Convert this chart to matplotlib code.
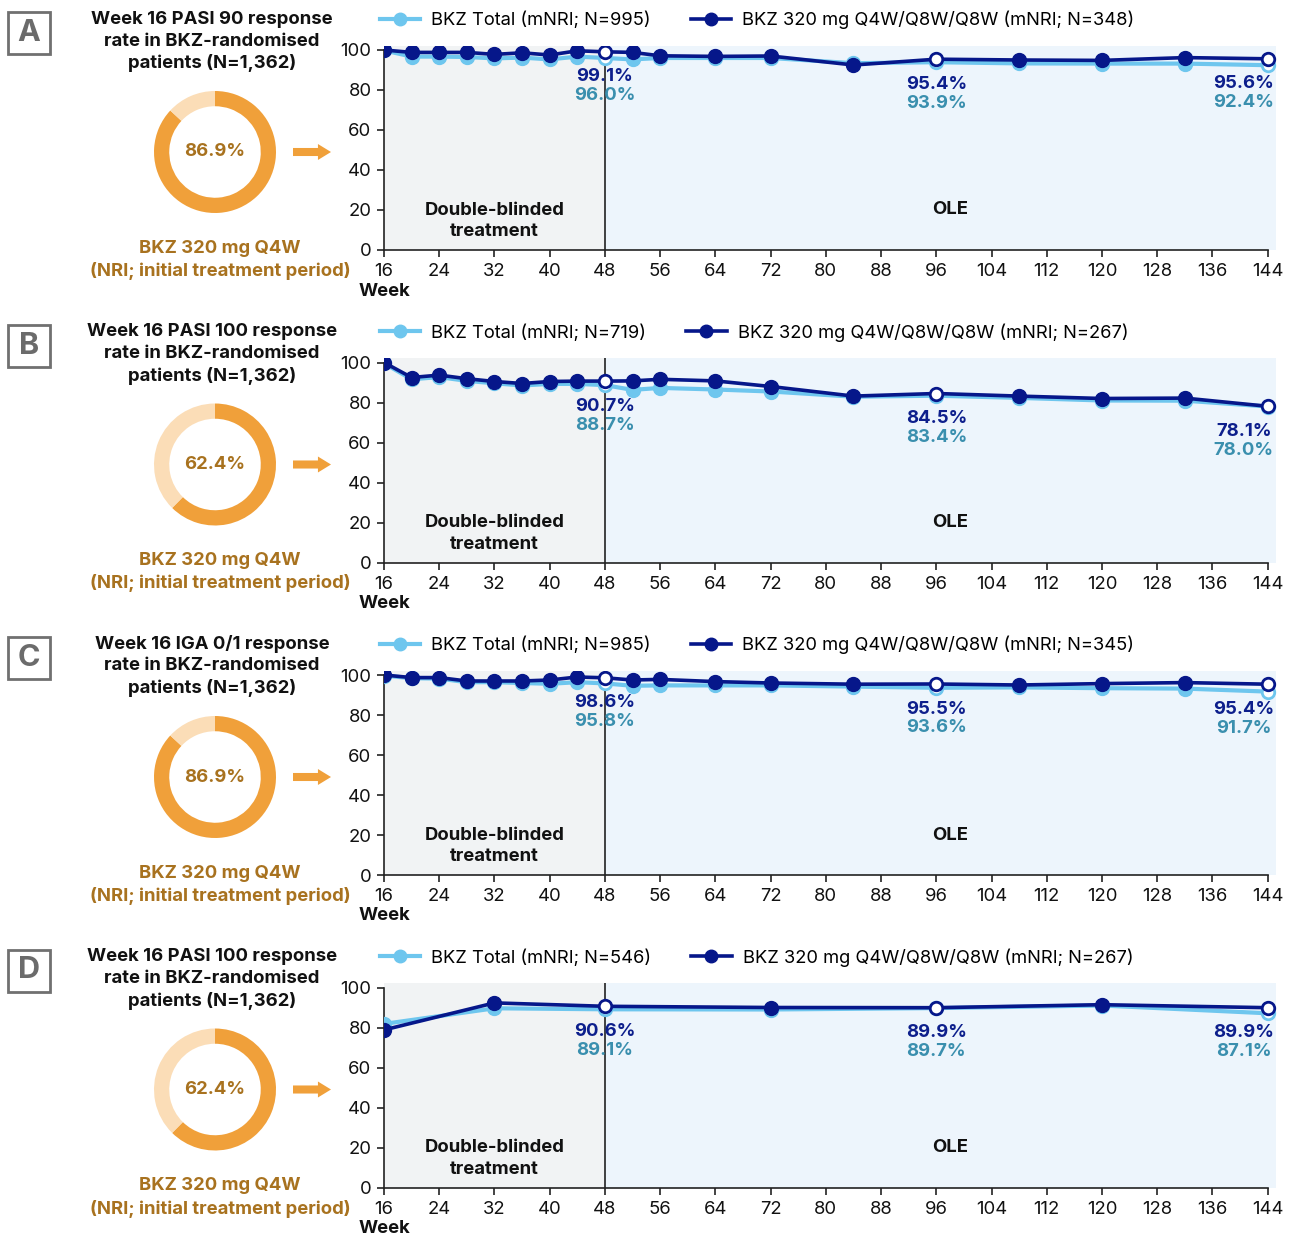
import numpy as np
import matplotlib
matplotlib.use("Agg")
from matplotlib import pyplot as plt
from matplotlib.lines import Line2D
from matplotlib.patches import Rectangle, FancyArrowPatch

plt.rcParams['font.family'] = ['Inter', 'DejaVu Sans']

# ---- data ----
weeks = [16, 20, 24, 28, 32, 36, 40, 44, 48, 52, 56, 64, 72, 84, 96, 108, 120, 132, 144]
weeks_d = [16, 32, 48, 72, 96, 120, 144]
open_weeks = [48, 96, 144]

a_dark = [100, 98.8, 98.8, 98.8, 97.8, 98.6, 97.5, 99.6, 99.1, 98.8, 97.1, 96.8, 97.0, 92.5, 95.4, 95.0, 94.8, 96.2, 95.6]
a_light = [99.8, 96.7, 96.7, 96.5, 95.8, 96.2, 95.3, 96.7, 96.0, 95.3, 96.0, 96.0, 96.0, 93.4, 93.9, 93.3, 93.2, 93.2, 92.4]
b_dark = [100, 92.5, 93.7, 91.9, 90.5, 89.5, 90.5, 90.7, 90.7, 90.8, 91.6, 90.8, 88.0, 83.2, 84.5, 83.2, 82.0, 82.2, 78.1]
b_light = [99.6, 91.6, 92.7, 90.8, 89.6, 88.5, 89.3, 89.3, 88.7, 86.3, 87.3, 86.5, 85.5, 82.9, 83.4, 82.3, 81.0, 80.9, 78.0]
c_dark = [100, 98.7, 98.7, 97.0, 97.0, 97.0, 97.5, 99.0, 98.6, 97.5, 97.8, 96.7, 96.0, 95.4, 95.5, 95.0, 95.7, 96.2, 95.4]
c_light = [99.7, 98.4, 98.2, 96.4, 96.4, 96.0, 95.6, 96.4, 95.8, 94.6, 94.8, 94.8, 94.8, 94.2, 93.6, 93.8, 93.4, 93.2, 91.7]
d_dark = [78.8, 92.3, 90.6, 90.0, 89.9, 91.4, 89.9]
d_light = [81.8, 89.6, 89.1, 89.0, 89.7, 91.0, 87.1]

letters = ['A', 'B', 'C', 'D']
titles = [
    ['Week 16 PASI 90 response', 'rate in BKZ-randomised', 'patients (N=1,362)'],
    ['Week 16 PASI 100 response', 'rate in BKZ-randomised', 'patients (N=1,362)'],
    ['Week 16 IGA 0/1 response', 'rate in BKZ-randomised', 'patients (N=1,362)'],
    ['Week 16 PASI 100 response', 'rate in BKZ-randomised', 'patients (N=1,362)'],
]
donut_vals = [86.9, 62.4, 86.9, 62.4]
n_total = [995, 719, 985, 546]
n_dose = [348, 267, 345, 267]
panel_x = [weeks, weeks, weeks, weeks_d]
panel_dark = [a_dark, b_dark, c_dark, d_dark]
panel_light = [a_light, b_light, c_light, d_light]

# ---- styles ----
W, H = 1297, 1237
DARK = '#06178a'
LIGHT = '#6ec6ee'
DARK_TXT = '#0d1f8c'
LIGHT_TXT = '#3a8fae'
ORANGE = '#f0a03a'
PEACH = '#fbddb7'
BROWN = '#a8721f'
GREY_BG = '#f1f3f4'
BLUE_BG = '#edf5fc'
FS = 13.3

fig = plt.figure(figsize=(W / 100, H / 100), dpi=100)


def fx(x):
    return x / W


def fy(y):
    return 1 - y / H


for i in range(4):
    dy = 312.5 * i
    # main line chart
    ax = fig.add_axes([fx(384), fy(250 + dy), 892 / W, 204.4 / H])
    ax.set_xlim(16, 145.2)
    ax.set_ylim(0, 102.2)
    ax.axvspan(16, 48, color=GREY_BG, lw=0, zorder=0)
    ax.axvspan(48, 145.2, color=BLUE_BG, lw=0, zorder=0)
    ax.axvline(48, color='#222222', lw=1.2, zorder=1)

    x = np.array(panel_x[i])
    dk = np.array(panel_dark[i])
    lt = np.array(panel_light[i])
    is_open = np.isin(x, open_weeks)

    ax.plot(x, lt, color=LIGHT, lw=3, zorder=3)
    ax.plot(x[~is_open], lt[~is_open], 'o', color=LIGHT, ms=10, zorder=3)
    ax.plot(x[is_open], lt[is_open], 'o', mfc='white', mec=LIGHT, mew=2, ms=9, zorder=3)
    ax.plot(x, dk, color=DARK, lw=2.6, zorder=4)
    ax.plot(x[~is_open], dk[~is_open], 'o', color=DARK, ms=10, zorder=4)
    ax.plot(x[is_open], dk[is_open], 'o', mfc='white', mec=DARK, mew=2, ms=9, zorder=4)

    # value labels under the open markers
    for w in open_weeks:
        k = list(x).index(w)
        xo = -24 if w == 144 else 0
        ax.annotate(f'{dk[k]:.1f}%', (w, dk[k]), xytext=(xo, -25), textcoords='offset pixels',
                    ha='center', va='center', fontsize=FS, fontweight='bold', color=DARK_TXT, zorder=6)
        ax.annotate(f'{lt[k]:.1f}%', (w, dk[k]), xytext=(xo, -44), textcoords='offset pixels',
                    ha='center', va='center', fontsize=FS, fontweight='bold', color=LIGHT_TXT, zorder=6)

    ax.text(32, 14.5, 'Double-blinded\ntreatment', ha='center', va='center',
            fontsize=FS, fontweight='bold', color='#111111', linespacing=1.35)
    ax.text(98, 20, 'OLE', ha='center', va='center', fontsize=FS, fontweight='bold', color='#111111')
    ax.text(16, -20.5, 'Week', ha='center', va='center', fontsize=FS, fontweight='bold', color='#111111')

    for s in ['top', 'right']:
        ax.spines[s].set_visible(False)
    ax.spines['left'].set_bounds(0, 100)
    ax.spines['bottom'].set_bounds(16, 144)
    for s in ['left', 'bottom']:
        ax.spines[s].set_linewidth(1.2)
        ax.spines[s].set_color('#222222')
    ax.set_xticks(np.arange(16, 145, 8))
    ax.set_yticks(np.arange(0, 101, 20))
    ax.tick_params(axis='both', labelsize=FS, length=5, width=1.2, color='#222222', labelcolor='#111111')
    ax.tick_params(axis='x', pad=4.5)
    ax.tick_params(axis='y', pad=4)

    handles = [
        Line2D([], [], color=LIGHT, lw=3, marker='o', ms=9),
        Line2D([], [], color=DARK, lw=2.6, marker='o', ms=9),
    ]
    labels = [f'BKZ Total (mNRI; N={n_total[i]})',
              f'BKZ 320 mg Q4W/Q8W/Q8W (mNRI; N={n_dose[i]})']
    ax.legend(handles, labels, ncol=2, loc='center left', bbox_to_anchor=(-0.005, 1.126),
              frameon=False, fontsize=13.2, handlelength=2.2, handletextpad=0.6,
              columnspacing=2.2, borderpad=0, borderaxespad=0)

    # donut
    dax = fig.add_axes([fx(215 - 61), fy(152 + dy + 61), 122 / W, 122 / H])
    dax.pie([donut_vals[i], 100 - donut_vals[i]], colors=[ORANGE, PEACH], startangle=90,
            counterclock=False, radius=1, wedgeprops=dict(width=0.25, edgecolor='none'))
    dax.set_xlim(-1, 1)
    dax.set_ylim(-1, 1)
    dax.set_aspect('equal')
    dax.axis('off')
    dax.text(0, 0, f'{donut_vals[i]:.1f}%', ha='center', va='center',
             fontsize=FS, fontweight='bold', color=BROWN)

    # arrow
    fig.add_artist(FancyArrowPatch((fx(293), fy(152 + dy)), (fx(331), fy(152 + dy)),
                                   transform=fig.transFigure,
                                   arrowstyle='simple,head_length=0.94,head_width=1.15,tail_width=0.58',
                                   mutation_scale=10, color=ORANGE, lw=0, shrinkA=0, shrinkB=0))

    # titles and captions
    for j, line in enumerate(titles[i]):
        fig.text(fx(212), fy(19 + 22 * j + dy), line, ha='center', va='center',
                 fontsize=FS, fontweight='bold', color='#111111')
    fig.text(fx(220), fy(248 + dy), 'BKZ 320 mg Q4W', ha='center', va='center',
             fontsize=FS, fontweight='bold', color=BROWN)
    fig.text(fx(220), fy(271 + dy), '(NRI; initial treatment period)', ha='center', va='center',
             fontsize=FS, fontweight='bold', color=BROWN)

    # panel letter
    fig.add_artist(Rectangle((fx(8), fy(54 + dy)), 42 / W, 42 / H, transform=fig.transFigure,
                             fill=False, ec='#707070', lw=2))
    fig.text(fx(29), fy(33 + dy), letters[i], ha='center', va='center',
             fontsize=22, fontweight='bold', color='#6b6b6b')

fig.savefig('out.png', dpi=100)
